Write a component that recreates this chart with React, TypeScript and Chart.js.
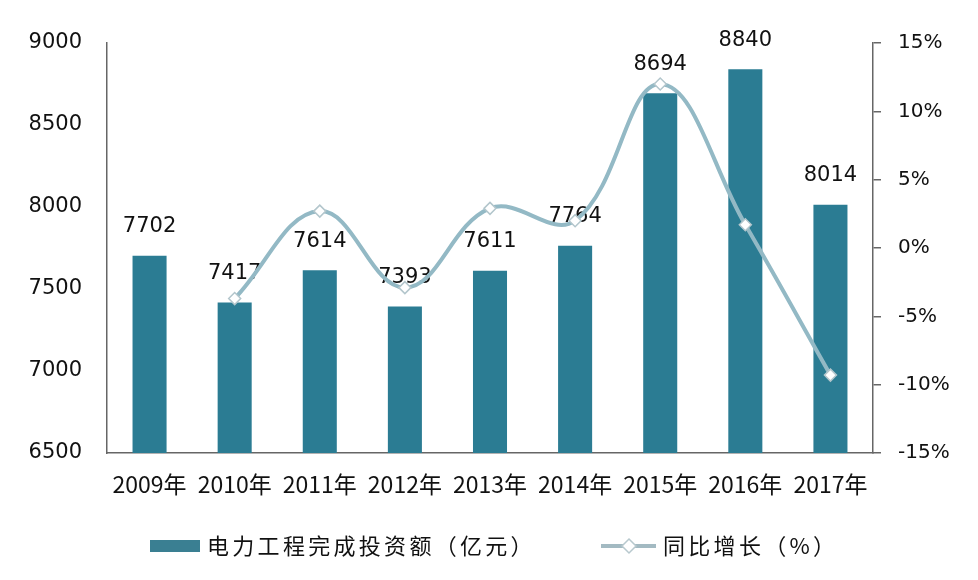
import React, { useEffect, useRef } from "react";
import { Chart, registerables } from "chart.js";

Chart.register(...registerables);

const categories = ["2009年", "2010年", "2011年", "2012年", "2013年", "2014年", "2015年", "2016年", "2017年"];
const investment = [7702, 7417, 7614, 7393, 7611, 7764, 8694, 8840, 8014];
const growth = [null, -3.7, 2.7, -2.9, 2.9, 2.0, 12.0, 1.7, -9.3];
const barLabels = ["7702", "7417", "7614", "7393", "7611", "7764", "8694", "8840", "8014"];
const seriesNames = ["电力工程完成投资额（亿元）", "同比增长（%）"];

const BAR_COLOR = "#2b7c93";
const LINE_COLOR = "#93b9c5";
const AXIS_COLOR = "#666666";

const labelPlugin = {
  id: "barLabels",
  afterDatasetDraw(chart: any, args: any) {
    if (args.index !== 0) return;
    const ctx = chart.ctx;
    const meta = chart.getDatasetMeta(0);
    ctx.save();
    ctx.font = "21px 'DejaVu Sans'";
    ctx.fillStyle = "#111";
    ctx.textAlign = "center";
    ctx.textBaseline = "middle";
    meta.data.forEach((el: any, i: number) => {
      ctx.fillText(barLabels[i], el.x, el.y - 29);
    });
    ctx.restore();
  },
};

const legendPlugin = {
  id: "customLegend",
  afterDraw(chart: any) {
    const ctx = chart.ctx;
    ctx.save();
    const cy = 546;
    ctx.fillStyle = "#3a7f92";
    ctx.fillRect(150, 540, 50, 12);
    ctx.font = "22px 'Noto Sans CJK SC'";
    ctx.fillStyle = "#111";
    ctx.textBaseline = "middle";
    ctx.textAlign = "left";
    try { (ctx as any).letterSpacing = "3.3px"; } catch (e) {}
    ctx.fillText(seriesNames[0], 207, cy);
    ctx.strokeStyle = "#a3bac2";
    ctx.lineWidth = 4;
    ctx.beginPath();
    ctx.moveTo(601, cy);
    ctx.lineTo(656, cy);
    ctx.stroke();
    ctx.beginPath();
    ctx.moveTo(629, cy - 7);
    ctx.lineTo(636, cy);
    ctx.lineTo(629, cy + 7);
    ctx.lineTo(622, cy);
    ctx.closePath();
    ctx.fillStyle = "#ffffff";
    ctx.fill();
    ctx.lineWidth = 1.5;
    ctx.strokeStyle = "#b8c9ce";
    ctx.stroke();
    ctx.fillStyle = "#111";
    ctx.fillText(seriesNames[1], 663, cy);
    ctx.restore();
  },
};

export default function App() {
  const canvasRef = useRef<HTMLCanvasElement | null>(null);

  useEffect(() => {
    document.body.style.margin = "0";
    const canvas = canvasRef.current;
    if (!canvas) return;
    const chart = new Chart(canvas, {
      type: "bar",
      data: {
        labels: categories,
        datasets: [
          {
            type: "bar",
            label: seriesNames[0],
            data: investment,
            backgroundColor: BAR_COLOR,
            borderWidth: 0,
            barPercentage: 0.4,
            categoryPercentage: 1,
            yAxisID: "y",
            order: 1,
          },
          {
            type: "line",
            label: seriesNames[1],
            data: growth as any,
            borderColor: LINE_COLOR,
            borderWidth: 4,
            tension: 0.4,
            pointStyle: "rectRot",
            pointRadius: 6,
            pointBackgroundColor: "#ffffff",
            pointBorderColor: "#b3c6cc",
            pointBorderWidth: 1.5,
            yAxisID: "y1",
            order: 0,
          } as any,
        ],
      },
      options: {
        responsive: false,
        animation: false,
        layout: { padding: { top: 43, left: 0, right: 0, bottom: 0 } },
        plugins: {
          legend: { display: false },
          tooltip: { enabled: false },
        },
        scales: {
          x: {
            grid: { display: true, drawOnChartArea: false, drawTicks: false, color: AXIS_COLOR },
            border: { display: true, color: AXIS_COLOR, width: 1.5 },
            ticks: {
              color: "#111",
              font: { family: "'Noto Sans CJK SC'", size: 23 },
              padding: 17,
              maxRotation: 0,
              autoSkip: false,
            },
            afterFit: (s: any) => {
              s.height = 127;
            },
          },
          y: {
            position: "left",
            min: 6500,
            max: 9000,
            grid: { display: true, drawOnChartArea: false, drawTicks: false, color: AXIS_COLOR },
            border: { display: true, color: AXIS_COLOR, width: 1.5 },
            ticks: {
              stepSize: 500,
              color: "#111",
              font: { family: "'DejaVu Sans'", size: 21 },
              padding: 25,
              callback: (v: any) => String(v),
            },
            afterFit: (s: any) => {
              s.width = 107;
            },
          },
          y1: {
            position: "right",
            min: -15,
            max: 15,
            grid: { display: true, drawOnChartArea: false, drawTicks: true, tickLength: 8, color: AXIS_COLOR, lineWidth: 1.5 },
            border: { display: true, color: AXIS_COLOR, width: 1.5 },
            ticks: {
              stepSize: 5,
              color: "#111",
              font: { family: "'DejaVu Sans'", size: 20 },
              padding: 17,
              callback: (v: any) => v + "%",
            },
            afterFit: (s: any) => {
              s.width = 105;
            },
          },
        },
      },
      plugins: [labelPlugin, legendPlugin],
    });
    return () => chart.destroy();
  }, []);

  return (
    <div style={{ position: "absolute", left: 0, top: 0, width: 978, height: 580, background: "#ffffff" }}>
      <canvas ref={canvasRef} width={978} height={580} />
    </div>
  );
}
